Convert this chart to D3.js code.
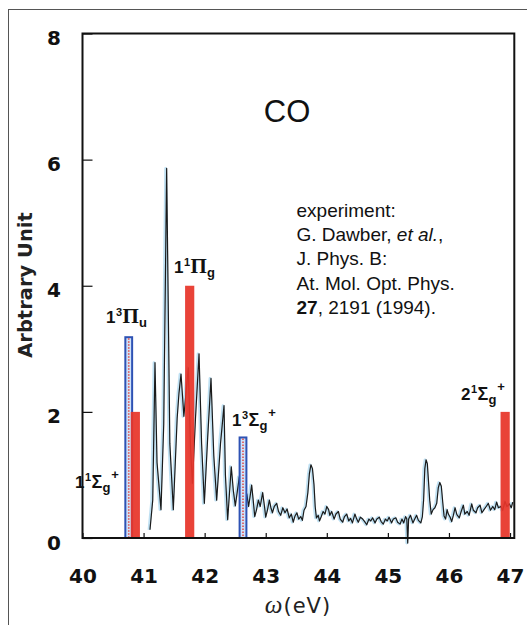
<!DOCTYPE html>
<html><head><meta charset="utf-8">
<script src="https://cdn.jsdelivr.net/npm/d3@7/dist/d3.min.js"></script>
<style>body{margin:0;background:#fff} svg{display:block}</style>
</head><body><svg id="c" width="527" height="625"></svg>
<script>
// ---------- data ----------
const xTicks = [40, 41, 42, 43, 44, 45, 46, 47];
const yTicks = [0, 2, 4, 6, 8];
const xDomain = [40, 47.07];
const yDomain = [0, 8];

const specEV = [41.105,41.15,41.187,41.22,41.285,41.33,41.378,41.43,41.487,41.55,41.58,41.613,41.66,41.733,41.77,41.80,41.85,41.908,41.95,41.995,42.05,42.104,42.15,42.197,42.26,42.317,42.34,42.377,42.436,42.47,42.502,42.568,42.6,
42.62,42.64,42.66,42.69,42.72,42.75,42.77,42.80,42.82,42.85,42.88,42.91,42.95,42.98,43.00,43.03,43.06,43.085,43.11,43.14,43.18,43.21,43.245,43.28,43.316,43.35,43.386,43.42,43.45,43.48,43.51,43.54,43.573,43.60,43.627,43.66,43.69,43.715,43.74,43.765,43.79,43.81,43.83,43.86,43.88,43.91,43.94,43.97,44.0,44.03,44.05,44.08,44.12,44.15,44.19,44.22,44.26,44.29,44.326,44.36,44.39,44.42,44.46,44.49,44.516,44.55,44.588,44.62,44.654,44.69,44.72,44.75,44.79,44.82,44.86,44.89,44.925,44.96,44.99,45.02,45.06,45.09,45.13,45.16,45.2,45.23,45.26,45.29,45.31,45.325,45.34,45.37,45.41,45.44,45.47,45.5,45.54,45.565,45.585,45.605,45.625,45.646,45.665,45.685,45.71,45.74,45.77,45.80,45.826,45.85,45.875,45.9,45.92,45.945,45.97,45.99,46.02,46.045,46.07,46.1,46.13,46.17,46.2,46.236,46.26,46.3,46.33,46.373,46.4,46.443,46.47,46.51,46.54,46.574,46.61,46.645,46.68,46.717,46.75,46.78,46.81,46.848,46.88,46.918,46.95,46.99,47.02,47.045];
const specVal = [0.13,0.6,2.78,1.2,0.45,1.8,5.86,1.5,0.45,1.9,2.3,2.6,1.93,2.7,1.4,0.87,1.9,2.92,1.5,0.55,1.6,2.53,1.3,0.6,1.5,2.1,1.0,0.29,1.13,0.75,0.51,0.97,0.7,
0.6,0.75,0.62,0.7,0.5,0.7,0.84,0.55,0.34,0.45,0.6,0.5,0.72,0.5,0.33,0.45,0.6,0.48,0.4,0.5,0.55,0.42,0.36,0.48,0.4,0.46,0.32,0.38,0.25,0.35,0.4,0.3,0.34,0.28,0.44,0.5,0.72,1.02,1.16,1.1,0.85,0.5,0.32,0.36,0.27,0.34,0.42,0.38,0.5,0.45,0.36,0.42,0.3,0.38,0.42,0.3,0.25,0.34,0.38,0.27,0.31,0.24,0.38,0.3,0.25,0.33,0.3,0.26,0.21,0.3,0.27,0.32,0.24,0.3,0.33,0.26,0.22,0.3,0.27,0.33,0.24,0.3,0.32,0.25,0.22,0.3,0.24,0.34,0.3,-0.08,0.3,0.36,0.24,0.3,0.36,0.28,0.24,0.34,0.6,1.1,1.24,1.18,0.9,0.6,0.38,0.45,0.48,0.55,0.8,0.88,0.82,0.55,0.35,0.3,0.45,0.38,0.33,0.26,0.35,0.48,0.37,0.32,0.42,0.52,0.38,0.42,0.36,0.54,0.44,0.4,0.48,0.52,0.4,0.45,0.5,0.55,0.44,0.5,0.45,0.57,0.48,0.5,0.44,0.58,0.5,0.54,0.48,0.57];

const barEV   = [40.757, 40.865, 41.755, 42.628, 46.92];
const barVal  = [3.2, 2.0, 4.0, 1.61, 2.0];
const barKind = ["triplet", "singlet", "singlet", "triplet", "singlet"];

// state labels: lead digit, superscript multiplicity, symbol, subscript, plus
const lblLead  = ["1", "1", "1", "1", "2"];
const lblMult  = ["3", "1", "1", "3", "1"];
const lblSym   = ["Π", "Σ", "Π", "Σ", "Σ"];
const lblSub   = ["u", "g", "g", "g", "g"];
const lblPlus  = ["", "+", "", "+", "+"];

const refLines = ["experiment:", "G. Dawber, |et al.|,", "J. Phys. B:", "At. Mol. Opt. Phys.", "*27*, 2191 (1994)."];

// ---------- layout ----------
const svg = d3.select("#c");
const x = d3.scaleLinear().domain(xDomain).range([82.5, 514.3]);
const y = d3.scaleLinear().domain(yDomain).range([538, 33.5]);
const lblPos = [[106,323],[75,488],[174,273],[232,426],[461,400]];

svg.append("rect").attr("width",527).attr("height",625).attr("fill","#fff");
svg.append("rect").attr("x",8.5).attr("y",9.5).attr("width",540).attr("height",640)
  .attr("fill","none").attr("stroke","#555").attr("stroke-width",1);

const defs = svg.append("defs");
defs.append("filter").attr("id","soft").attr("x","-50%").attr("width","200%")
  .append("feGaussianBlur").attr("stdDeviation",0.6);

// spectrum
const line = d3.line().x((d,i)=>x(specEV[i])).y((d,i)=>y(specVal[i]));
svg.append("path").datum(specVal).attr("d",line).attr("fill","none")
  .attr("stroke","#a9d6ee").attr("stroke-width",2.8).attr("stroke-linejoin","round")
  .attr("transform","translate(-1,0)").attr("opacity",0.75);
svg.append("path").datum(specVal).attr("d",line).attr("fill","none")
  .attr("stroke","#1b1b1b").attr("stroke-width",1.2).attr("stroke-linejoin","round");

// bars
const bars = svg.append("g");
barEV.forEach((e,i)=>{
  const cx = x(e), top = y(barVal[i]), bot = y(0);
  if (barKind[i] === "singlet") {
    bars.append("rect").attr("x",cx-4.6).attr("y",top).attr("width",9.2).attr("height",bot-top)
      .attr("fill","#e8352b").attr("opacity",0.93).attr("filter","url(#soft)");
  } else {
    bars.append("rect").attr("x",cx-3.4).attr("y",top+1).attr("width",6.8).attr("height",bot-top-1)
      .attr("fill","#cfe2fa").attr("stroke","#2d52b4").attr("stroke-width",2);
    bars.append("line").attr("x1",cx).attr("x2",cx).attr("y1",top+2).attr("y2",bot)
      .attr("stroke","#e0504a").attr("stroke-width",1.6).attr("stroke-dasharray","1.5,1.5");
  }
});

// frame
svg.append("rect").attr("x",x(40)).attr("y",y(8)).attr("width",x(47.07)-x(40)).attr("height",y(0)-y(8))
  .attr("fill","none").attr("stroke","#111").attr("stroke-width",2);

// axes
const fontTick = "'DejaVu Sans', sans-serif";
const gx = svg.append("g").attr("transform",`translate(0,${y(0)})`)
  .call(d3.axisBottom(x).tickValues(xTicks).tickSizeInner(-5).tickSizeOuter(0).tickFormat(d3.format("d")));
gx.select(".domain").remove();
gx.selectAll(".tick line").attr("stroke","#111").attr("stroke-width",1.2);
gx.selectAll(".tick text").attr("y",45).attr("dy",0).attr("fill","#111")
  .style("font-family",fontTick).style("font-weight","bold").style("font-size","20px");

const gy = svg.append("g").attr("transform",`translate(${x(40)},0)`)
  .call(d3.axisLeft(y).tickValues(yTicks).tickSizeInner(-10).tickSizeOuter(0).tickFormat(d3.format("d")));
gy.select(".domain").remove();
gy.selectAll(".tick line").attr("stroke","#111").attr("stroke-width",1.2);
gy.selectAll(".tick text").attr("x",-28.5).attr("dy","0.55em").attr("text-anchor","middle").attr("fill","#111")
  .style("font-family",fontTick).style("font-weight","bold").style("font-size","20px");

// axis titles
svg.append("text").attr("transform","translate(32,285) rotate(-90)").attr("text-anchor","middle")
  .style("font-family",fontTick).style("font-weight","bold").style("font-size","19.5px").attr("fill","#222")
  .text("Arbtrary Unit");
const xt = svg.append("text").attr("x",298).attr("y",613).attr("text-anchor","middle").attr("fill","#222")
  .style("font-family",fontTick).style("font-size","21px");
xt.append("tspan").style("font-family","'Liberation Serif', serif").style("font-style","italic").style("font-size","25px").text("ω");
xt.append("tspan").attr("dx",1).style("letter-spacing","1px").text("(eV)");

// CO title
svg.append("text").attr("x",287).attr("y",121.6).attr("text-anchor","middle")
  .style("font-family","'Liberation Sans', Arial, sans-serif").style("font-size","31px").attr("fill","#111").text("CO");

// reference text
const ref = svg.append("text").style("font-family","'Liberation Sans', Arial, sans-serif")
  .style("font-size","19px").attr("fill","#111");
refLines.forEach((ln,i)=>{
  const t = ref.append("tspan").attr("x",296.5).attr("y",216.7+i*24.3);
  ln.split(/(\|[^|]*\||\*[^*]*\*)/).filter(s=>s.length).forEach(s=>{
    const sp = t.append("tspan");
    if (s[0]==="|") sp.style("font-style","italic").text(s.slice(1,-1));
    else if (s[0]==="*") sp.style("font-weight","bold").text(s.slice(1,-1));
    else sp.text(s);
  });
});

// state labels
const sans = "'Liberation Sans', Arial, sans-serif";
lblLead.forEach((l,i)=>{
  const [lx,ly] = lblPos[i];
  const t = svg.append("text").attr("x",lx).attr("y",ly).attr("fill","#111")
    .style("font-family",sans).style("font-weight","bold").style("font-size","17px");
  t.append("tspan").text(l);
  t.append("tspan").attr("dy",-7).attr("dx",0.5).style("font-size","11px").text(lblMult[i]);
  if (lblSym[i]==="Π") {
    t.append("tspan").attr("dy",7).attr("dx",0.5).style("font-family","'Liberation Serif', serif").style("font-size","21px").text("Π");
  } else {
    t.append("tspan").attr("dy",7).attr("dx",0.5).style("font-size","18px").text("Σ");
  }
  t.append("tspan").attr("dy",4).style("font-size","13px").text(lblSub[i]);
  if (lblPlus[i]) t.append("tspan").attr("dy",-13).attr("dx",1).style("font-size","13px").text(lblPlus[i]);
});
</script></body></html>
